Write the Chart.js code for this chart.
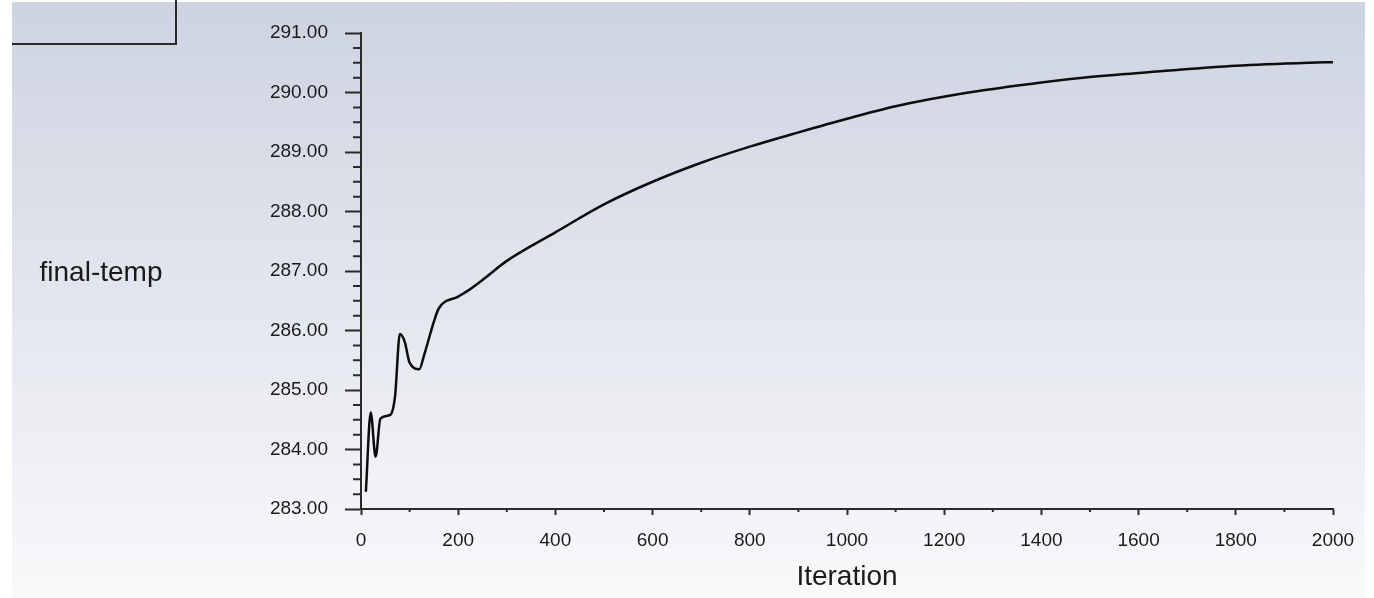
<!DOCTYPE html>
<html>
<head>
<meta charset="utf-8">
<script src="https://cdn.jsdelivr.net/npm/chart.js@4/dist/chart.umd.min.js"></script>
<style>
  html, body { margin: 0; padding: 0; background: #ffffff; }
  #wrap { position: relative; width: 1374px; height: 598px; overflow: hidden; }
  #panel {
    position: absolute; left: 12px; top: 2px; width: 1353px; height: 596px;
    background: linear-gradient(to bottom, #cdd3e1 0%, #e3e6ee 50%, #f9f9fb 100%);
  }
  #legendBox {
    position: absolute; left: 12px; top: 0; width: 163px; height: 43px;
    border-right: 2px solid #2a2a2a; border-bottom: 2px solid #2a2a2a;
  }
  canvas { position: absolute; left: 0; top: 0; }
</style>
</head>
<body>
<div id="wrap">
  <div id="panel"></div>
  <div id="legendBox"></div>
  <canvas id="chart" width="1374" height="598"></canvas>
</div>
<script>
const iterations = [10, 20, 30, 40, 60, 70, 80, 90, 100, 120, 130, 150, 160, 200, 220, 250,
    300, 400, 500, 600, 700, 800, 900, 1000, 1100, 1250, 1400, 1500, 1650, 1800, 1950, 2000];
const finalTemp = [283.29, 284.62, 283.88, 284.52, 284.58, 284.89, 285.94, 285.81, 285.46, 285.35, 285.59, 286.15, 286.37, 286.57, 286.67, 286.85,
    287.17, 287.65, 288.12, 288.50, 288.82, 289.09, 289.33, 289.56, 289.77, 290.00, 290.17, 290.26, 290.36, 290.45, 290.50, 290.51];

const xMin = 0, xMax = 2000, xStep = 200, xMinorStep = 100;
const yMin = 283, yMax = 291, yStep = 1, yMinorStep = 0.25;
const yTitle = 'final-temp';
const xTitle = 'Iteration';

const axisColor = '#2a2a2a';
const textColor = '#1a1a1a';
const fontFamily = '"Liberation Sans", Arial, sans-serif';

// small ticks between the labelled ones
const minorTicks = {
    id: 'minorTicks',
    afterDraw(chart) {
        const ctx = chart.ctx;
        const xs = chart.scales.x, ys = chart.scales.y;
        ctx.save();
        ctx.strokeStyle = axisColor;
        ctx.lineWidth = 2;
        ctx.beginPath();
        for (let v = yMin; v <= yMax + 1e-9; v += yMinorStep) {
            if (Math.abs(v - Math.round(v / yStep) * yStep) < 1e-6) continue;
            const p = ys.getPixelForValue(v);
            ctx.moveTo(ys.right - 8, p);
            ctx.lineTo(ys.right, p);
        }
        for (let v = xMin; v <= xMax; v += xMinorStep) {
            if (v % xStep === 0) continue;
            const p = xs.getPixelForValue(v);
            ctx.moveTo(p, xs.top);
            ctx.lineTo(p, xs.top + 3);
        }
        ctx.stroke();

        // horizontal y title, left of the axis
        ctx.fillStyle = textColor;
        ctx.font = '28px ' + fontFamily;
        ctx.textAlign = 'center';
        ctx.textBaseline = 'middle';
        ctx.fillText(yTitle, 101, (chart.chartArea.top + chart.chartArea.bottom) / 2 + 2);
        ctx.restore();
    }
};

const ctx = document.getElementById('chart').getContext('2d');
new Chart(ctx, {
    type: 'line',
    data: {
        datasets: [{
            data: iterations.map((it, i) => ({ x: it, y: finalTemp[i] })),
            borderColor: '#0d0d0d',
            borderWidth: 2.5,
            pointRadius: 0,
            cubicInterpolationMode: 'monotone',
            fill: false,
        }]
    },
    options: {
        responsive: false,
        animation: false,
        devicePixelRatio: 1,
        layout: { padding: { top: 33, right: 41, bottom: 0, left: 0 } },
        plugins: {
            legend: { display: false },
            tooltip: { enabled: false },
        },
        scales: {
            x: {
                type: 'linear',
                min: xMin,
                max: xMax,
                afterFit: (scale) => { scale.height = 89; },
                border: { display: true, color: axisColor, width: 2 },
                grid: { drawOnChartArea: false, drawTicks: true, tickLength: 6, tickColor: axisColor, tickWidth: 2 },
                ticks: {
                    stepSize: xStep,
                    maxRotation: 0,
                    padding: 14,
                    color: textColor,
                    font: { family: fontFamily, size: 19 },
                    callback: (v) => String(v),
                },
                title: {
                    display: true,
                    text: xTitle,
                    color: textColor,
                    font: { family: fontFamily, size: 28 },
                    padding: { top: 0, bottom: 4 },
                },
            },
            y: {
                type: 'linear',
                min: yMin,
                max: yMax,
                afterFit: (scale) => { scale.width = 361; },
                border: { display: true, color: axisColor, width: 2 },
                grid: { drawOnChartArea: false, drawTicks: true, tickLength: 16, tickColor: axisColor, tickWidth: 2 },
                ticks: {
                    stepSize: yStep,
                    padding: 17,
                    color: textColor,
                    font: { family: fontFamily, size: 19 },
                    callback: (v) => Number(v).toFixed(2),
                },
            },
        },
    },
    plugins: [minorTicks],
});
</script>
</body>
</html>
